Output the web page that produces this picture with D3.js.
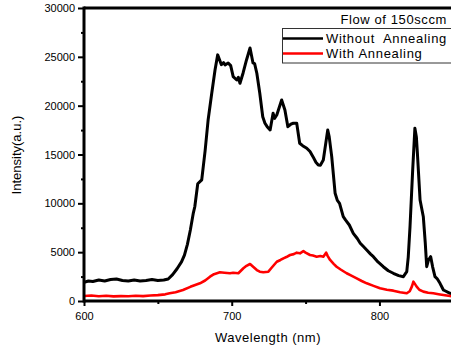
<!DOCTYPE html>
<html><head><meta charset="utf-8">
<script src="https://cdn.jsdelivr.net/npm/d3@7"></script>
<style>body{margin:0;background:#fff;} text{font-family:"Liberation Sans",Arial,sans-serif;}</style>
</head><body>
<svg id="c" width="451" height="354"></svg>
<script>
const blackWl = [600,603,606,610,614,618,622,626,630,634,638,642,646,650,654,657,660,663,666,668,670,672,674,675,677,679.7,682,684,686.5,688.7,690.5,692,693,694.5,695.5,697.6,699.3,701,703.4,704.5,705.6,707.7,710,712.4,714.4,715.5,717,719,721,722.5,724,726,728,729,730.5,733.8,736,738,740,741.7,744,746,748,750.8,753,755,757,758.6,760,762,764,765,766,767.7,770,771.5,773,775.5,777,779.6,782.3,785,787,789,791.4,794,795.9,799,802.6,806,809.4,813,816.2,818.5,819.5,820.7,822.5,824,825,825.7,827.5,829.7,831,832,833.2,834.7,836,837.6,839,841,843.3,845,847.8,850];
const blackI = [1900,2050,2000,2150,2050,2200,2250,2100,2050,2150,2050,2100,2200,2100,2150,2250,2700,3300,4000,4700,5800,7270,9000,9650,12000,12400,15400,18500,21300,23650,25200,24600,24200,24400,24170,24370,24100,22970,22630,22900,22290,23350,24680,25900,24370,24300,23320,21270,18870,18200,17850,17510,19220,18700,19050,20580,19560,17850,18100,18200,18200,16150,15900,15640,15300,14780,14200,13930,13900,14440,16500,17510,16800,14780,11030,10300,10000,8630,8300,7780,6930,6400,5910,5600,5220,4800,4540,4000,3510,3100,2840,2600,2490,3000,4500,7610,13400,17700,16800,15120,10340,8630,6000,3510,4200,4540,3500,2490,2300,1810,1130,1000,790,700];
const redWl = [600,605,610,615,620,625,630,635,640,645,650,655,658,662,667,672,678.5,682,685.3,688,692,695,698.8,701,704.5,707.9,710,712.4,714.5,717,719,721.4,724.8,727,730.5,733,735,737,739.5,742,744,746.2,748.5,750,753,755,757.5,760,762,763.9,765,766.6,769,771,774,777.8,781,784.6,788,791.4,796,800.4,805,809.4,814,818.5,820.5,822,823,825.2,827,829.7,833,836.5,840,843.3,847.8,850];
const redI = [510,560,490,530,470,500,480,530,500,560,600,680,790,900,1130,1450,1810,2100,2490,2750,2940,2900,2840,2900,2840,3350,3600,3790,3500,3170,3000,2940,3000,3400,4020,4200,4370,4500,4710,4800,4950,4880,5100,4950,4710,4650,4540,4600,4540,4950,4600,4200,3800,3510,3200,2840,2600,2320,2050,1810,1550,1300,1150,1060,900,790,1000,1500,1980,1470,1150,960,850,790,700,614,510,480];
const xTicks = [600,700,800];
const xMinor = [650,750];
const yTicks = [0,5000,10000,15000,20000,25000,30000];
const yMinor = [2500,7500,12500,17500,22500,27500];
const seriesNames = ["Without  Annealing","With Annealing"];
const seriesColors = ["#000000","#ff0000"];
const legendTitle = "Flow of 150sccm";

const svg = d3.select("#c");
const x = d3.scaleLinear().domain([600,850]).range([84,453.3]);
const y = d3.scaleLinear().domain([0,30000]).range([301,8]);

svg.append("clipPath").attr("id","cp").append("rect").attr("x",84).attr("y",8).attr("width",370).attr("height",293);

const line = d3.line().x(d=>x(d[0])).y(d=>y(d[1]));
const bData = blackWl.map((w,i)=>[w,blackI[i]]);
const rData = redWl.map((w,i)=>[w,redI[i]]);
const g = svg.append("g").attr("clip-path","url(#cp)");
g.append("path").datum(bData).attr("d",line).attr("fill","none").attr("stroke",seriesColors[0]).attr("stroke-width",3).attr("stroke-linejoin","round");
g.append("path").datum(rData).attr("d",line).attr("fill","none").attr("stroke",seriesColors[1]).attr("stroke-width",2.6).attr("stroke-linejoin","round");

const xAx = svg.append("g").attr("transform","translate(0,301)")
  .call(d3.axisBottom(x).tickValues(xTicks).tickSize(5).tickPadding(6).tickFormat(d3.format("d")));
const yAx = svg.append("g").attr("transform","translate(84,0)")
  .call(d3.axisLeft(y).tickValues(yTicks).tickSize(6).tickPadding(3).tickFormat(d3.format("d")));
[xAx,yAx].forEach(a=>{
  a.select(".domain").remove();
  a.selectAll(".tick line").attr("stroke","#000").attr("stroke-width",2);
  a.selectAll(".tick text").attr("fill","#000").style("font-size","11px");
});
svg.append("g").attr("transform","translate(0,301)")
  .call(d3.axisBottom(x).tickValues(xMinor).tickSize(3).tickFormat(""))
  .call(a=>{a.select(".domain").remove();a.selectAll("line").attr("stroke","#000").attr("stroke-width",2);});
svg.append("g").attr("transform","translate(84,0)")
  .call(d3.axisLeft(y).tickValues(yMinor).tickSize(3).tickFormat(""))
  .call(a=>{a.select(".domain").remove();a.selectAll("line").attr("stroke","#000").attr("stroke-width",2);});

svg.append("line").attr("x1",84).attr("x2",451).attr("y1",301).attr("y2",301).attr("stroke","#000").attr("stroke-width",3);
svg.append("line").attr("x1",84).attr("x2",451).attr("y1",8).attr("y2",8).attr("stroke","#000").attr("stroke-width",3);
svg.append("line").attr("x1",84).attr("x2",84).attr("y1",6.5).attr("y2",302.5).attr("stroke","#000").attr("stroke-width",3);

svg.append("text").attr("x",268).attr("y",342).attr("text-anchor","middle").style("font-size","13px").style("letter-spacing","0.5px").text("Wavelength (nm)");
svg.append("text").attr("transform","translate(21,155) rotate(-90)").attr("text-anchor","middle").style("font-size","13px").text("Intensity(a.u.)");

svg.append("text").attr("x",447).attr("y",24).attr("text-anchor","end").style("font-size","13px").style("letter-spacing","0.6px").text(legendTitle);
svg.append("rect").attr("x",282.5).attr("y",28.5).attr("width",180).attr("height",34.5).attr("fill","none").attr("stroke","#333").attr("stroke-width",1);
const lgY = [38.5,53.5];
seriesNames.forEach((n,i)=>{
  svg.append("line").attr("x1",283).attr("x2",323).attr("y1",lgY[i]).attr("y2",lgY[i]).attr("stroke",seriesColors[i]).attr("stroke-width",2.5);
  svg.append("text").attr("x",326).attr("y",lgY[i]+4.5).style("font-size","13px").style("letter-spacing","0.7px").attr("xml:space","preserve").text(n);
});
</script>
</body></html>
